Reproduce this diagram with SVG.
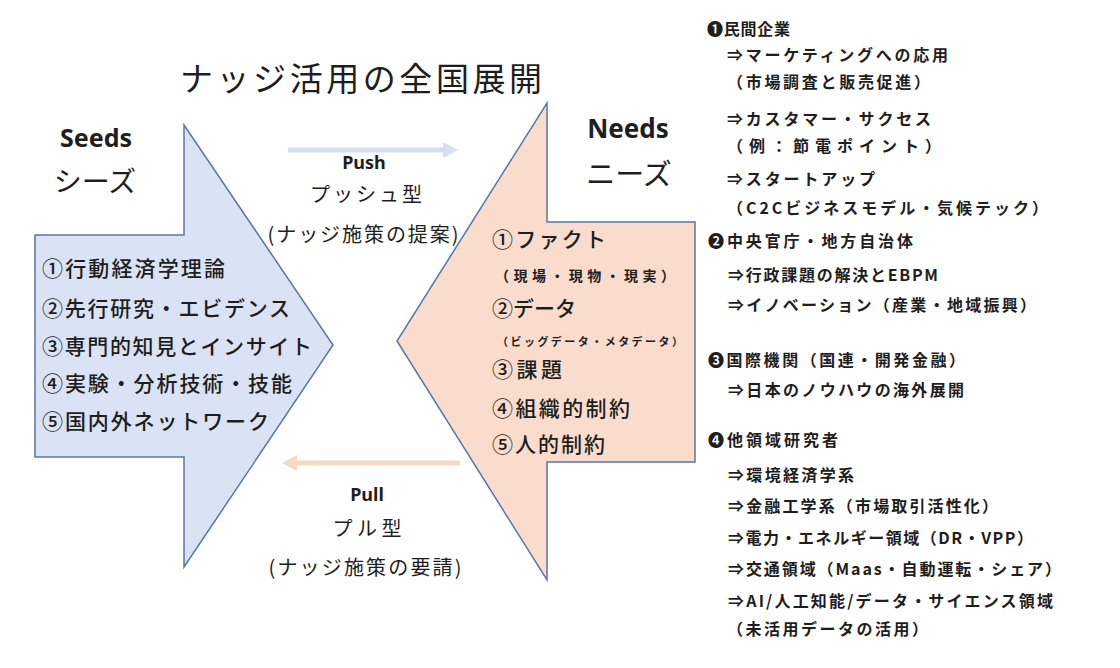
<svg xmlns="http://www.w3.org/2000/svg" width="1120" height="668" viewBox="0 0 1120 668">
<style>
.jp{font-family:"Noto Sans CJK JP","Noto Sans",sans-serif;fill:#1e1e1e}
.lat{font-family:"Noto Sans","Open Sans",sans-serif;font-weight:700;fill:#1e1e1e}
.lst{font-size:21px;font-weight:500}
.rc{font-size:16px;font-weight:700}
.mid{font-size:20px;text-anchor:middle}
.big{fill:#dae3f3;stroke:#5a76a6;stroke-width:1.5;stroke-linejoin:miter}
.org{fill:#f9dccb;stroke:#5a76a6;stroke-width:1.5}
</style>
<rect width="1120" height="668" fill="#ffffff"/>
<g id="title"><text class="jp" x="180" y="91" font-size="33" textLength="362" lengthAdjust="spacing">ナッジ活用の全国展開</text></g>
<g id="seeds">
<polygon class="big" points="35,235 184,235 184,125 333,345 184,567 184,457 35,457"/>
<text class="lat" x="96" y="147" font-size="25" text-anchor="middle">Seeds</text>
<text class="jp" x="95" y="192" font-size="28" text-anchor="middle">シーズ</text>
<text class="jp lst" x="42" y="276" textLength="183" lengthAdjust="spacing">①行動経済学理論</text>
<text class="jp lst" x="42" y="316" textLength="248" lengthAdjust="spacing">②先行研究・エビデンス</text>
<text class="jp lst" x="42" y="354" textLength="270" lengthAdjust="spacing">③専門的知見とインサイト</text>
<text class="jp lst" x="42" y="391" textLength="250" lengthAdjust="spacing">④実験・分析技術・技能</text>
<text class="jp lst" x="42" y="429" textLength="227" lengthAdjust="spacing">⑤国内外ネットワーク</text>
</g>
<g id="needs">
<polygon class="org" points="695,222 547,222 547,103 397,341 547,580 547,462 695,462"/>
<text class="lat" x="628" y="138" font-size="26" text-anchor="middle">Needs</text>
<text class="jp" x="629" y="185" font-size="29" text-anchor="middle">ニーズ</text>
<text class="jp lst" x="492" y="247" textLength="114" lengthAdjust="spacing">①ファクト</text>
<text class="jp" x="495" y="281" font-size="14" font-weight="700" textLength="180" lengthAdjust="spacing">（現場・現物・現実）</text>
<text class="jp lst" x="492" y="316" textLength="84" lengthAdjust="spacing">②データ</text>
<text class="jp" x="497" y="346" font-size="11" font-weight="700" textLength="186" lengthAdjust="spacing">（ビッグデータ・メタデータ）</text>
<text class="jp lst" x="492" y="377" textLength="70" lengthAdjust="spacing">③課題</text>
<text class="jp lst" x="492" y="416" textLength="138" lengthAdjust="spacing">④組織的制約</text>
<text class="jp lst" x="492" y="452" textLength="113" lengthAdjust="spacing">⑤人的制約</text>
</g>
<g id="connectors">
<line x1="288" y1="150" x2="445" y2="150" stroke="#d6dff0" stroke-width="5"/>
<polygon points="443,142 458,150 443,158" fill="#d6dff0"/>
<line x1="460" y1="463" x2="295" y2="463" stroke="#f7d9c6" stroke-width="5"/>
<polygon points="297,455 282,463 297,471" fill="#f7d9c6"/>
</g>
<g id="push-label">
<text class="lat" x="364" y="169" font-size="18" text-anchor="middle">Push</text>
<text class="jp mid" x="366" y="202" textLength="112" lengthAdjust="spacing">プッシュ型</text>
<text class="jp mid" x="363" y="242" textLength="191" lengthAdjust="spacing">(ナッジ施策の提案)</text>
</g>
<g id="pull-label">
<text class="lat" x="367" y="501" font-size="18" text-anchor="middle">Pull</text>
<text class="jp mid" x="367" y="536" textLength="69" lengthAdjust="spacing">プル型</text>
<text class="jp mid" x="365" y="575" textLength="193" lengthAdjust="spacing">(ナッジ施策の要請)</text>
</g>
<g id="targets">
<text class="jp rc" x="707" y="35" textLength="83" lengthAdjust="spacing">❶民間企業</text>
<text class="jp rc" x="727" y="61" textLength="221" lengthAdjust="spacing">⇒マーケティングへの応用</text>
<text class="jp rc" x="727" y="88" textLength="203" lengthAdjust="spacing">（市場調査と販売促進）</text>
<text class="jp rc" x="727" y="125" textLength="204" lengthAdjust="spacing">⇒カスタマー・サクセス</text>
<text class="jp rc" x="727" y="152" textLength="214" lengthAdjust="spacing">（例：節電ポイント）</text>
<text class="jp rc" x="727" y="185" textLength="148" lengthAdjust="spacing">⇒スタートアップ</text>
<text class="jp rc" x="727" y="214" textLength="321" lengthAdjust="spacing">（C2Cビジネスモデル・気候テック）</text>
<text class="jp rc" x="708" y="247" textLength="205" lengthAdjust="spacing">❷中央官庁・地方自治体</text>
<text class="jp rc" x="728" y="281" textLength="210" lengthAdjust="spacing">⇒行政課題の解決とEBPM</text>
<text class="jp rc" x="728" y="311" textLength="308" lengthAdjust="spacing">⇒イノベーション（産業・地域振興）</text>
<text class="jp rc" x="708" y="366" textLength="257" lengthAdjust="spacing">❸国際機関（国連・開発金融）</text>
<text class="jp rc" x="728" y="396" textLength="236" lengthAdjust="spacing">⇒日本のノウハウの海外展開</text>
<text class="jp rc" x="708" y="446" textLength="130" lengthAdjust="spacing">❹他領域研究者</text>
<text class="jp rc" x="728" y="481" textLength="126" lengthAdjust="spacing">⇒環境経済学系</text>
<text class="jp rc" x="728" y="512" textLength="270" lengthAdjust="spacing">⇒金融工学系（市場取引活性化）</text>
<text class="jp rc" x="728" y="544" textLength="305" lengthAdjust="spacing">⇒電力・エネルギー領域（DR・VPP）</text>
<text class="jp rc" x="728" y="575" textLength="333" lengthAdjust="spacing">⇒交通領域（Maas・自動運転・シェア）</text>
<text class="jp rc" x="728" y="607" textLength="325" lengthAdjust="spacing">⇒AI/人工知能/データ・サイエンス領域</text>
<text class="jp rc" x="727" y="635" textLength="201" lengthAdjust="spacing">（未活用データの活用）</text>
</g>
</svg>
